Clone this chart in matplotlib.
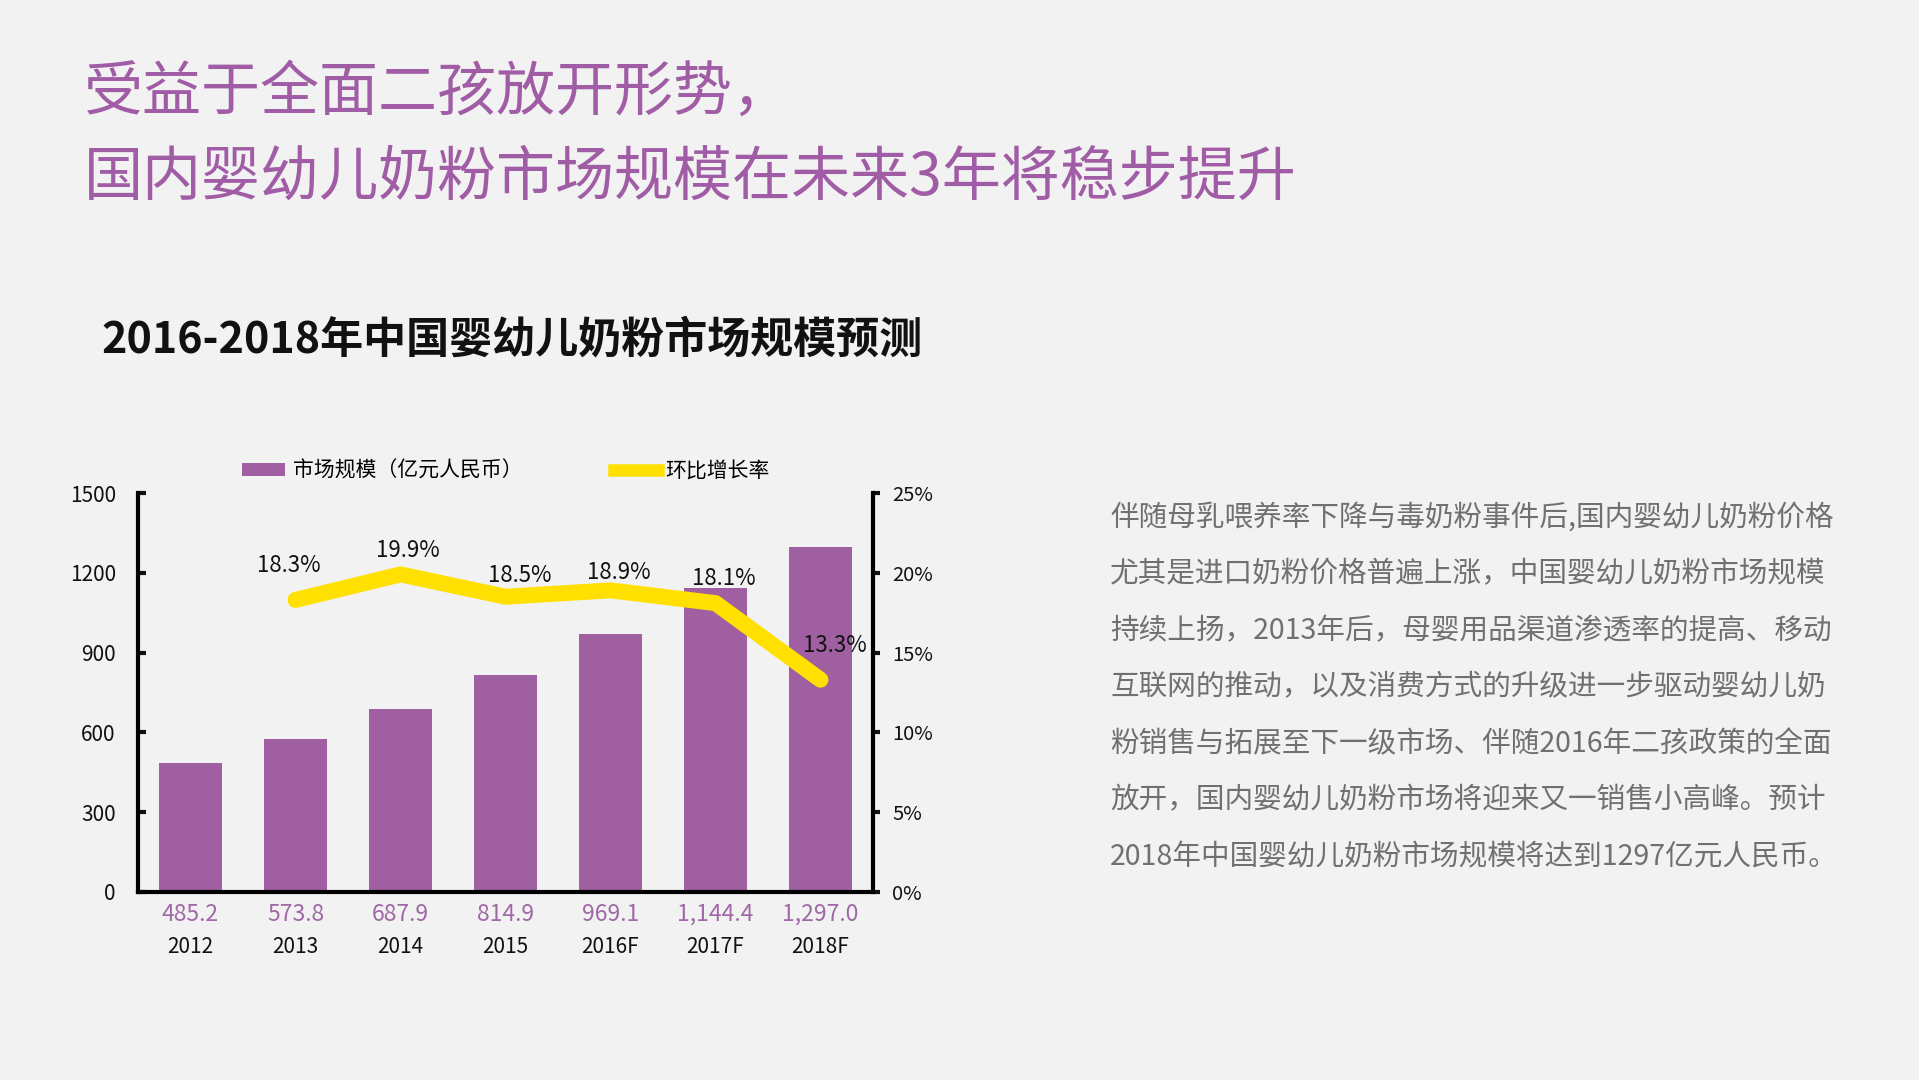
import matplotlib
matplotlib.use('Agg')
import matplotlib.pyplot as plt
from matplotlib.patches import Patch
from matplotlib.lines import Line2D

plt.rcParams['font.family'] = ['Noto Sans CJK SC', 'DejaVu Sans']

# ---------------- data ----------------
years = ['2012', '2013', '2014', '2015', '2016F', '2017F', '2018F']
market_size = [485.2, 573.8, 687.9, 814.9, 969.1, 1144.4, 1297.0]
value_labels = ['485.2', '573.8', '687.9', '814.9', '969.1', '1,144.4', '1,297.0']
growth_years = ['2013', '2014', '2015', '2016F', '2017F', '2018F']
growth_rate = [18.3, 19.9, 18.5, 18.9, 18.1, 13.3]
left_ticks = [0, 300, 600, 900, 1200, 1500]
right_ticks = [0, 5, 10, 15, 20, 25]
right_tick_labels = ['0%', '5%', '10%', '15%', '20%', '25%']

title_lines = ['受益于全面二孩放开形势，', '国内婴幼儿奶粉市场规模在未来3年将稳步提升']
subtitle = '2016-2018年中国婴幼儿奶粉市场规模预测'
legend_labels = ['市场规模（亿元人民币）', '环比增长率']
paragraph_lines = [
    '伴随母乳喂养率下降与毒奶粉事件后,国内婴幼儿奶粉价格',
    '尤其是进口奶粉价格普遍上涨，中国婴幼儿奶粉市场规模',
    '持续上扬，2013年后，母婴用品渠道渗透率的提高、移动',
    '互联网的推动，以及消费方式的升级进一步驱动婴幼儿奶',
    '粉销售与拓展至下一级市场、伴随2016年二孩政策的全面',
    '放开，国内婴幼儿奶粉市场将迎来又一销售小高峰。预计',
    '2018年中国婴幼儿奶粉市场规模将达到1297亿元人民币。',
]

# ---------------- style ----------------
BG = '#F2F2F2'
PURPLE = '#A05FA0'
TITLE_PURPLE = '#A05CA5'
LABEL_PURPLE = '#A068A6'
YELLOW = '#FFE000'
W, H = 1919, 1080
# label offsets (points) for the growth-rate labels
pct_label_offsets = [(-5, 25), (5, 17), (10, 15), (6, 13), (6, 18), (10, 25)]

fig = plt.figure(figsize=(W / 100, H / 100), dpi=100)
fig.patch.set_facecolor(BG)

# titles
fig.text(84 / W, 1 - 93 / H, title_lines[0], fontsize=42.5, color=TITLE_PURPLE,
         ha='left', va='center')
fig.text(84 / W, 1 - 178 / H, title_lines[1], fontsize=42.5, color=TITLE_PURPLE,
         ha='left', va='center')
fig.text(101 / W, 1 - 339 / H, subtitle, fontsize=31, color='#111111',
         fontweight='bold', ha='left', va='center')

# paragraph
for i, line in enumerate(paragraph_lines):
    fig.text(1110 / W, 1 - (518 + i * 56.5) / H, line, fontsize=20.6,
             color='#707070', ha='left', va='center')

# ---------------- chart ----------------
ax_left, ax_right, ax_top, ax_bottom = 138, 873, 493, 892
ax = fig.add_axes([ax_left / W, 1 - ax_bottom / H, (ax_right - ax_left) / W,
                   (ax_bottom - ax_top) / H])
ax.set_facecolor('none')
x = list(range(len(years)))
ax.bar(x, market_size, width=0.6, color=PURPLE, zorder=2)
ax.set_xlim(-0.5, len(years) - 0.5)
ax.set_ylim(0, 1500)
ax.set_yticks(left_ticks)
ax.set_yticklabels([str(t) for t in left_ticks])
ax.set_xticks(x)
ax.tick_params(axis='x', length=0, labelbottom=False)
ax.tick_params(axis='y', direction='in', length=6, width=3, pad=16,
               labelsize=15, colors='#111111')
for s in ['top', 'right']:
    ax.spines[s].set_visible(False)
for s in ['left', 'bottom']:
    ax.spines[s].set_linewidth(3)
    ax.spines[s].set_color('black')

for xi, lab, yr in zip(x, value_labels, years):
    ax.annotate(lab, (xi, 0), xycoords=('data', 'axes fraction'),
                xytext=(0, -16), textcoords='offset points', ha='center',
                va='center', fontsize=16.5, color=LABEL_PURPLE)
    ax.annotate(yr, (xi, 0), xycoords=('data', 'axes fraction'),
                xytext=(0, -39.5), textcoords='offset points', ha='center',
                va='center', fontsize=15, color='#111111')

ax2 = ax.twinx()
ax2.set_facecolor('none')
gx = [years.index(g) for g in growth_years]
ax2.plot(gx, growth_rate, color=YELLOW, lw=11.5, solid_capstyle='round',
         solid_joinstyle='round', zorder=3)
ax2.set_ylim(0, 25)
ax2.set_yticks(right_ticks)
ax2.set_yticklabels(right_tick_labels)
ax2.tick_params(axis='y', direction='out', length=5, width=3, pad=9,
                labelsize=14.5, colors='#111111')
for s in ['top', 'left', 'bottom']:
    ax2.spines[s].set_visible(False)
ax2.spines['right'].set_linewidth(3)
ax2.spines['right'].set_color('black')

for xi, v, off in zip(gx, growth_rate, pct_label_offsets):
    ax2.annotate(f'{v}%', (xi, v), xytext=off, textcoords='offset points',
                 ha='center', va='center', fontsize=16, color='#111111',
                 zorder=4)

handles = [Patch(facecolor=PURPLE, edgecolor='none'),
           Line2D([0], [0], color=YELLOW, lw=9)]
ax2.legend(handles, legend_labels, loc='center',
           bbox_to_anchor=(0.5, 1 + 22 / (ax_bottom - ax_top)), ncol=2,
           frameon=False, fontsize=15, handlelength=2.1, handleheight=0.6,
           handletextpad=0.35, columnspacing=4.4)

fig.savefig('out.png', dpi=100, facecolor=BG)
